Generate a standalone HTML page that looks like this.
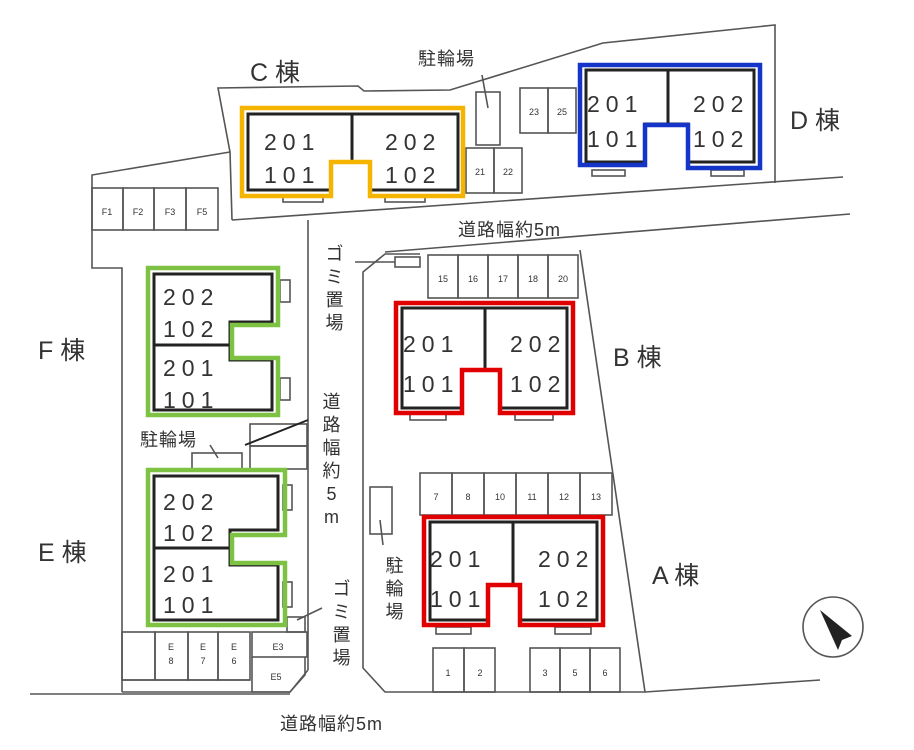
<!DOCTYPE html>
<html><head><meta charset="utf-8"><style>
html,body{margin:0;padding:0;background:#fff}
svg{display:block}
text{font-family:"Liberation Sans","Noto Sans CJK JP",sans-serif;fill:#333}
.n{font-size:23px;letter-spacing:6px}
.p{font-size:9px;fill:#777}
.l{font-size:25px}
.s{font-size:18px;letter-spacing:1px}
</style></head><body>
<svg width="914" height="750" viewBox="0 0 914 750" xmlns="http://www.w3.org/2000/svg">
<g fill="none" stroke="#555" stroke-width="1.6">
<polyline points="232,220 230,152 218,88 358,86 364,91 450,90 603,43 775,25 775,183"/>
<line x1="232" y1="220" x2="843" y2="177"/>
<polyline points="230,152 92,175 92,268 122,268 122,692"/>
<line x1="385" y1="252" x2="850" y2="214"/>
<line x1="308" y1="220" x2="308" y2="670"/>
<polyline points="308,670 290,692 122,692"/>
<line x1="30" y1="694" x2="290" y2="694"/>
<polyline points="420,254 385,254 363,272 363,668 385,692 645,692 820,680"/>
<line x1="580" y1="250" x2="645" y2="692"/>
<line x1="355" y1="262" x2="395" y2="262"/>
<rect x="395" y="257" width="25" height="10"/>
<rect x="92" y="188" width="31" height="42"/><rect x="123" y="188" width="31" height="42"/><rect x="154" y="188" width="32" height="42"/><rect x="186" y="188" width="32" height="42"/>
<rect x="428" y="255" width="30" height="43"/><rect x="458" y="255" width="30" height="43"/><rect x="488" y="255" width="30" height="43"/><rect x="518" y="255" width="30" height="43"/><rect x="548" y="255" width="30" height="43"/>
<rect x="420" y="473" width="32" height="42"/><rect x="452" y="473" width="32" height="42"/><rect x="484" y="473" width="32" height="42"/><rect x="516" y="473" width="32" height="42"/><rect x="548" y="473" width="32" height="42"/><rect x="580" y="473" width="32" height="42"/>
<rect x="433" y="648" width="31" height="44"/><rect x="464" y="648" width="31" height="44"/>
<rect x="530" y="648" width="30" height="44"/><rect x="560" y="648" width="30" height="44"/><rect x="590" y="648" width="30" height="44"/>
<rect x="520" y="88" width="28" height="45"/><rect x="548" y="88" width="28" height="45"/>
<rect x="466" y="148" width="28" height="45"/><rect x="494" y="148" width="28" height="45"/>
<rect x="476" y="92" width="24" height="53"/>
<line x1="482" y1="75" x2="488" y2="108"/>
<rect x="122" y="632" width="33" height="48"/><rect x="155" y="632" width="33" height="48"/><rect x="188" y="632" width="30" height="48"/><rect x="218" y="632" width="32" height="48"/>
<rect x="252" y="632" width="55" height="25"/>
<polyline points="252,657 252,692 290,692 305,675 305,657"/>
<line x1="122" y1="680" x2="250" y2="680"/>
<rect x="287" y="617" width="18" height="15"/>
<line x1="297" y1="620" x2="322" y2="608"/>
<rect x="192" y="453" width="50" height="16"/>
<rect x="250" y="424" width="57" height="22"/><rect x="250" y="446" width="57" height="23"/>
<line x1="210" y1="445" x2="218" y2="458"/>
<rect x="370" y="487" width="22" height="47"/>
<line x1="380" y1="520" x2="383" y2="545"/>
<rect x="283" y="196" width="40" height="6"/><rect x="385" y="196" width="40" height="6"/>
<rect x="592" y="170" width="33" height="6"/><rect x="711" y="170" width="33" height="6"/>
<rect x="410" y="414" width="36" height="6"/><rect x="515" y="414" width="38" height="6"/>
<rect x="436" y="627" width="35" height="7"/><rect x="555" y="627" width="36" height="7"/>
<rect x="280" y="280" width="10" height="22"/><rect x="280" y="378" width="10" height="22"/>
<rect x="283" y="485" width="9" height="25"/><rect x="283" y="582" width="9" height="25"/>
<circle cx="833" cy="627" r="30"/>
</g>
<line x1="245" y1="445" x2="308" y2="420" stroke="#222" stroke-width="2"/>
<polygon points="820,610 852,636 842,640 838,650" fill="#222"/>
<g fill="none" stroke="#222" stroke-width="3">
<path d="M248,114H458V190H370V162H331V190H248Z M352,114V162"/>
<path d="M586,70H754V162H688V124H645V162H586Z M668,70V124"/>
<path d="M402,308H567V408H500V370H462V408H402Z M485,308V370"/>
<path d="M430,522H597V620H520V585H488V620H430Z M513,522V585"/>
<path d="M154,274H272V322H230V360H272V410H154Z M154,345H230"/>
<path d="M154,476H278V530H230V565H278V620H154Z M154,548H230"/>
</g>
<g fill="none" stroke-width="4.5" stroke-linejoin="miter">
<path stroke="#f5b400" d="M242,108H463V196H370V162H331V196H242Z"/>
<path stroke="#1535c8" d="M580,65H760V168H688V125H645V165H580Z"/>
<path stroke="#e00000" d="M396,303H573V413H500V370H462V413H396Z"/>
<path stroke="#e00000" d="M424,517H603V625H520V585H488V625H424Z"/>
<path stroke="#7dc242" d="M148,268H278V325H232V358H278V415H148Z"/>
<path stroke="#7dc242" d="M148,470H285V535H232V563H285V625H148Z"/>
</g>
<g class="n">
<text x="264" y="150">201</text><text x="264" y="183">101</text><text x="385" y="150">202</text><text x="385" y="183">102</text>
<text x="587" y="112">201</text><text x="587" y="147">101</text><text x="693" y="112">202</text><text x="693" y="147">102</text>
<text x="403" y="352">201</text><text x="403" y="392">101</text><text x="510" y="352">202</text><text x="510" y="392">102</text>
<text x="430" y="567">201</text><text x="430" y="607">101</text><text x="538" y="567">202</text><text x="538" y="607">102</text>
<text x="163" y="305">202</text><text x="163" y="337">102</text><text x="163" y="376">201</text><text x="163" y="408">101</text>
<text x="163" y="510">202</text><text x="163" y="541">102</text><text x="163" y="582">201</text><text x="163" y="613">101</text>
</g>
<g class="p" text-anchor="middle">
<text x="107" y="215">F1</text><text x="138" y="215">F2</text><text x="170" y="215">F3</text><text x="202" y="215">F5</text>
<text x="443" y="282">15</text><text x="473" y="282">16</text><text x="503" y="282">17</text><text x="533" y="282">18</text><text x="563" y="282">20</text>
<text x="436" y="500">7</text><text x="468" y="500">8</text><text x="500" y="500">10</text><text x="532" y="500">11</text><text x="564" y="500">12</text><text x="596" y="500">13</text>
<text x="448" y="676">1</text><text x="480" y="676">2</text><text x="545" y="676">3</text><text x="575" y="676">5</text><text x="605" y="676">6</text>
<text x="534" y="115">23</text><text x="562" y="115">25</text><text x="480" y="175">21</text><text x="508" y="175">22</text>
<text x="171" y="650">E</text><text x="171" y="664">8</text><text x="203" y="650">E</text><text x="203" y="664">7</text><text x="234" y="650">E</text><text x="234" y="664">6</text>
<text x="278" y="650">E3</text><text x="276" y="680">E5</text>
</g>
<g class="l">
<text x="250" y="81">C 棟</text><text x="790" y="129">D 棟</text><text x="38" y="359">F 棟</text>
<text x="613" y="366">B 棟</text><text x="38" y="561">E 棟</text><text x="652" y="584">A 棟</text>
</g>
<g class="s">
<text x="418" y="65">駐輪場</text>
<text x="280" y="730">道路幅約5m</text>
<text x="458" y="236">道路幅約5m</text>
<text x="140" y="446">駐輪場</text>
</g>
<g class="s" text-anchor="middle">
<text x="335" y="260">ゴ</text><text x="335" y="283">ミ</text><text x="335" y="306">置</text><text x="335" y="329">場</text>
<text x="332" y="408">道</text><text x="332" y="431">路</text><text x="332" y="454">幅</text><text x="332" y="477">約</text><text x="332" y="500">5</text><text x="332" y="523">m</text>
<text x="342" y="595">ゴ</text><text x="342" y="618">ミ</text><text x="342" y="641">置</text><text x="342" y="664">場</text>
<text x="395" y="572">駐</text><text x="395" y="595">輪</text><text x="395" y="618">場</text>
</g>
</svg>
</body></html>
